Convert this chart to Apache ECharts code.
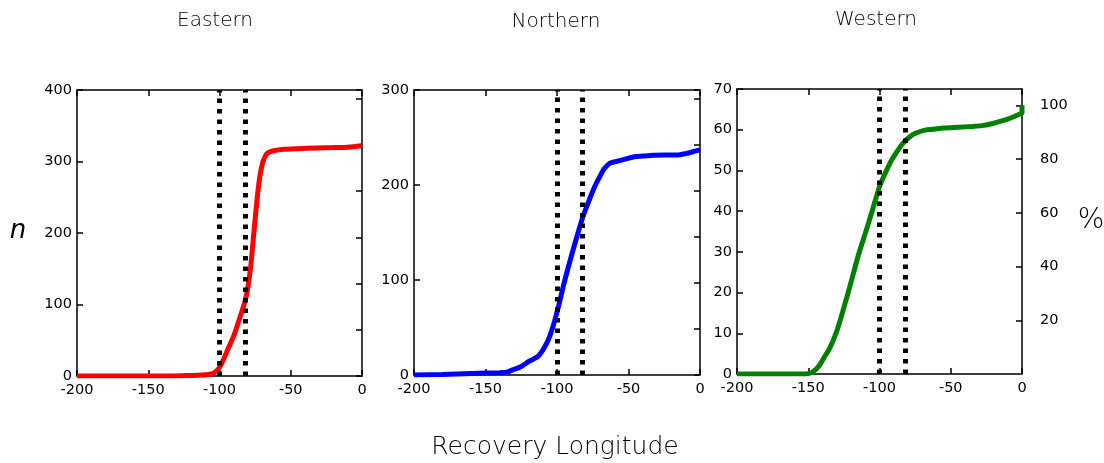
<!DOCTYPE html>
<html>
<head>
<meta charset="utf-8">
<script src="https://cdn.jsdelivr.net/npm/echarts@6/dist/echarts.min.js"></script>
<style>
html,body{margin:0;padding:0;background:#fff;}
#chart{width:1104px;height:463px;}
</style>
</head>
<body>
<div id="chart"></div>
<script>
// ---- data ----
var panelNames = ['Eastern', 'Northern', 'Western'];
var xTicks = [-200, -150, -100, -50, 0];
var refLines = [-100, -82];

var eastX = [-200, -180, -160, -140, -125, -115, -108, -104, -100, -97, -94, -90, -86, -82, -80, -78, -76, -74, -72, -70, -68, -66, -62, -55, -45, -32, -20, -10, 0];
var eastY = [0, 0, 0, 0, 0.5, 1, 2, 4, 12, 24, 38, 56, 80, 105, 125, 155, 198, 240, 275, 296, 307, 312, 315, 317, 318, 319, 319.5, 320, 322];

var northX = [-200, -180, -160, -140, -135, -130, -125, -120, -113, -107, -103, -99, -95, -90, -86, -82, -78, -74, -70, -67, -63, -58, -53, -45, -35, -25, -16, -10, -5, 0];
var northY = [0, 0.5, 1.5, 2.5, 3, 6, 9, 14, 20, 34, 50, 72, 97, 125, 146, 166, 182, 197, 209, 217, 223, 225, 227, 230, 231, 231.5, 231.5, 233, 235, 237];

var westX = [-200, -170, -152, -148, -145, -142, -139, -135, -130, -125, -120, -115, -110, -105, -100, -96, -92, -88, -84, -80, -76, -72, -68, -62, -55, -45, -35, -28, -22, -16, -10, -5, -1, 0, 0];
var westY = [0, 0, 0, 0.3, 1, 2.2, 4, 6.3, 10.5, 16.3, 22.5, 29, 34.5, 40.2, 46, 49.3, 52.2, 54.5, 56.5, 57.9, 58.9, 59.5, 59.9, 60.1, 60.4, 60.6, 60.8, 61, 61.4, 62, 62.6, 63.3, 63.9, 64.1, 66];

var yMax = [400, 300, 70];
var yInterval = [100, 100, 10];
var westTotal = 66;           // n corresponding to 100 %
var pctInterval = 20;

// ---- layout ----
var grids = [
  {left: 77, top: 90, width: 285, height: 286},
  {left: 414, top: 90, width: 286, height: 285},
  {left: 737, top: 89, width: 285, height: 285}
];
var colors = ['#ff0000', '#0000ff', '#008000'];
var labelFont = {fontFamily: 'DejaVu Sans', fontSize: 14.5, color: '#000'};
var lineStyleAxis = {color: '#000', width: 1.5};

function zip(xs, ys) { return xs.map(function (x, i) { return [x, ys[i]]; }); }
var seriesData = [zip(eastX, eastY), zip(northX, northY), zip(westX, westY)];

var xAxes = [], yAxes = [], series = [];
grids.forEach(function (g, i) {
  xAxes.push({
    type: 'value', gridIndex: i, position: 'bottom', min: -200, max: 0, interval: 50,
    axisLine: {show: true, onZero: false, lineStyle: lineStyleAxis},
    axisTick: {show: true, inside: true, length: 6, lineStyle: lineStyleAxis},
    axisLabel: Object.assign({margin: 7}, labelFont),
    splitLine: {show: false}
  });
  xAxes.push({
    type: 'value', gridIndex: i, position: 'top', min: -200, max: 0, interval: 50,
    axisLine: {show: true, onZero: false, lineStyle: lineStyleAxis},
    axisTick: {show: true, inside: true, length: 6, lineStyle: lineStyleAxis},
    axisLabel: {show: false},
    splitLine: {show: false}
  });
  yAxes.push({
    type: 'value', gridIndex: i, position: 'left', min: 0, max: yMax[i], interval: yInterval[i],
    axisLine: {show: true, onZero: false, lineStyle: lineStyleAxis},
    axisTick: {show: true, inside: true, length: 6, lineStyle: lineStyleAxis},
    axisLabel: Object.assign({margin: 5}, labelFont),
    splitLine: {show: false}
  });
  if (i < 2) {
    yAxes.push({
      type: 'value', gridIndex: i, position: 'right', min: 0, max: 6.19, interval: 1,
      axisLine: {show: true, onZero: false, lineStyle: lineStyleAxis},
      axisTick: {show: true, inside: true, length: 6, lineStyle: lineStyleAxis},
      axisLabel: {show: false},
      splitLine: {show: false}
    });
  } else {
    yAxes.push({
      type: 'value', gridIndex: i, position: 'right', min: 0, max: yMax[i] / westTotal * 100, interval: pctInterval,
      axisLine: {show: true, onZero: false, lineStyle: lineStyleAxis},
      axisTick: {show: true, inside: true, length: 6, lineStyle: lineStyleAxis},
      axisLabel: Object.assign({margin: 18, showMinLabel: false, showMaxLabel: false}, labelFont),
      splitLine: {show: false}
    });
  }
  series.push({
    type: 'line', xAxisIndex: i * 2, yAxisIndex: i * 2,
    data: seriesData[i], showSymbol: false, smooth: 0.25,
    lineStyle: {color: colors[i], width: 5},
    z: 3,
    markLine: {
      silent: true, symbol: 'none', label: {show: false},
      lineStyle: {color: '#000', width: 5, type: [4.5, 6], opacity: 1},
      data: refLines.map(function (v) { return {xAxis: v}; }),
      z: 4
    }
  });
});

var titleFont = '200 20px "DejaVu Sans"';
var graphics = [
  {type: 'text', style: {text: panelNames[0], x: 215, y: 21, textAlign: 'center', textVerticalAlign: 'middle', font: titleFont, fill: '#000'}},
  {type: 'text', style: {text: panelNames[1], x: 556, y: 22, textAlign: 'center', textVerticalAlign: 'middle', font: titleFont, fill: '#000'}},
  {type: 'text', style: {text: panelNames[2], x: 876, y: 20, textAlign: 'center', textVerticalAlign: 'middle', font: titleFont, fill: '#000'}},
  {type: 'text', style: {text: 'Recovery Longitude', x: 555, y: 447, textAlign: 'center', textVerticalAlign: 'middle', font: '200 25px "DejaVu Sans"', fill: '#000'}},
  {type: 'text', style: {text: 'n', x: 18, y: 231, textAlign: 'center', textVerticalAlign: 'middle', font: 'italic 26px "DejaVu Sans"', fill: '#000'}},
  {type: 'text', style: {text: '%', x: 1091, y: 221, textAlign: 'center', textVerticalAlign: 'middle', font: '200 28px "DejaVu Sans"', fill: '#000'}}
];

var chart = echarts.init(document.getElementById('chart'), null, {renderer: 'canvas'});
chart.setOption({
  animation: false,
  backgroundColor: '#fff',
  grid: grids,
  xAxis: xAxes,
  yAxis: yAxes,
  series: series,
  graphic: graphics
});
</script>
</body>
</html>
